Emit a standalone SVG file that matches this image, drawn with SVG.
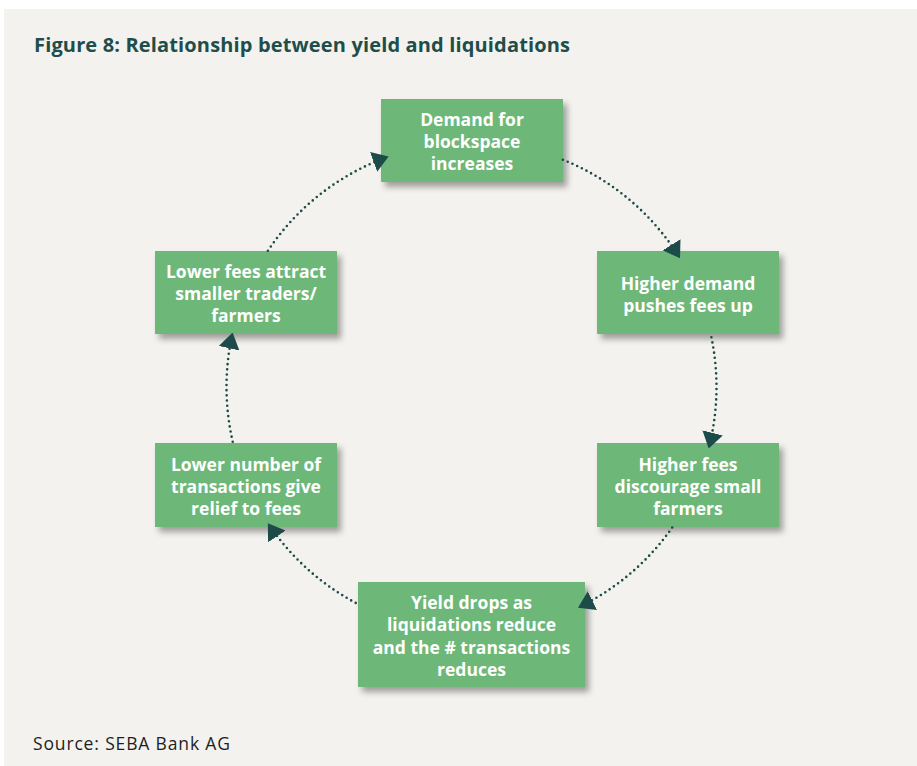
<svg xmlns="http://www.w3.org/2000/svg" width="917" height="766" viewBox="0 0 917 766">
  <style>
    .title { font-family: "Open Sans", "Liberation Sans", sans-serif; font-weight: 700; font-size: 20px; fill: #1f4d4a; }
    .source { font-family: "Open Sans", "Liberation Sans", sans-serif; font-weight: 400; font-size: 17.5px; fill: #1e1e1e; }
    .box { fill: #6db878; filter: url(#shadow); }
    .label { font-family: "Open Sans", "Liberation Sans", sans-serif; font-weight: 700; font-size: 17.5px; fill: #ffffff; text-anchor: middle; }
    .link { fill: none; stroke: #1d4b4a; stroke-width: 2.6; stroke-linecap: round; stroke-dasharray: 0 5.2; marker-end: url(#head); }
  </style>
  <defs>
    <filter id="shadow" x="-10%" y="-10%" width="130%" height="140%">
      <feDropShadow dx="4" dy="5" stdDeviation="3" flood-color="#000000" flood-opacity="0.35"/>
    </filter>
    <marker id="head" markerUnits="userSpaceOnUse" viewBox="0 0 16 21" refX="15" refY="10.5" markerWidth="16" markerHeight="21" orient="auto">
      <path d="M0,0 L16,10.5 L0,21 z" fill="#1d4b4a"/>
    </marker>
  </defs>

  <!-- page background -->
  <rect x="0" y="0" width="917" height="766" fill="#ffffff"/>
  <rect x="4" y="9" width="913" height="757" fill="#f3f2ee"/>

  <text class="title" x="34" y="52" textLength="536" lengthAdjust="spacing">Figure 8: Relationship between yield and liquidations</text>

  <!-- cycle steps -->
  <g id="demand">
    <rect class="box" x="381" y="99" width="182" height="83"/>
    <text class="label" x="472" y="126">Demand for</text>
    <text class="label" x="472" y="148">blockspace</text>
    <text class="label" x="472" y="170">increases</text>
  </g>
  <g id="fees-up">
    <rect class="box" x="597" y="251" width="182" height="83"/>
    <text class="label" x="688" y="290">Higher demand</text>
    <text class="label" x="688" y="312">pushes fees up</text>
  </g>
  <g id="discourage">
    <rect class="box" x="597" y="443" width="182" height="84"/>
    <text class="label" x="688" y="471">Higher fees</text>
    <text class="label" x="688" y="493">discourage small</text>
    <text class="label" x="688" y="515">farmers</text>
  </g>
  <g id="yield-drops">
    <rect class="box" x="358" y="582" width="227" height="105"/>
    <text class="label" x="471.5" y="609">Yield drops as</text>
    <text class="label" x="471.5" y="631">liquidations reduce</text>
    <text class="label" x="471.5" y="653.5">and the # transactions</text>
    <text class="label" x="471.5" y="676">reduces</text>
  </g>
  <g id="relief">
    <rect class="box" x="155" y="443" width="182" height="84"/>
    <text class="label" x="246" y="471">Lower number of</text>
    <text class="label" x="246" y="493">transactions give</text>
    <text class="label" x="246" y="515">relief to fees</text>
  </g>
  <g id="attract">
    <rect class="box" x="155" y="251" width="182" height="83"/>
    <text class="label" x="246" y="278">Lower fees attract</text>
    <text class="label" x="246" y="300">smaller traders/</text>
    <text class="label" x="246" y="322">farmers</text>
  </g>

  <!-- dotted arcs of the cycle, centre (471.5, 387), r 245 -->
  <g id="connectors">
    <path class="link" d="M562.9,159.7 A245,245 0 0 1 679.5,257.5"/>
    <path class="link" d="M711.4,337.3 A245,245 0 0 1 708.9,447.5"/>
    <path class="link" d="M672.2,527.5 A245,245 0 0 1 578.9,607.2"/>
    <path class="link" d="M355.7,602.9 A245,245 0 0 1 268.4,524.0"/>
    <path class="link" d="M232.7,441.7 A245,245 0 0 1 232.4,333.6"/>
    <path class="link" d="M267.9,250.7 A245,245 0 0 1 387.7,156.8"/>
  </g>

  <text class="source" x="33" y="750" textLength="197" lengthAdjust="spacing">Source: SEBA Bank AG</text>
</svg>
